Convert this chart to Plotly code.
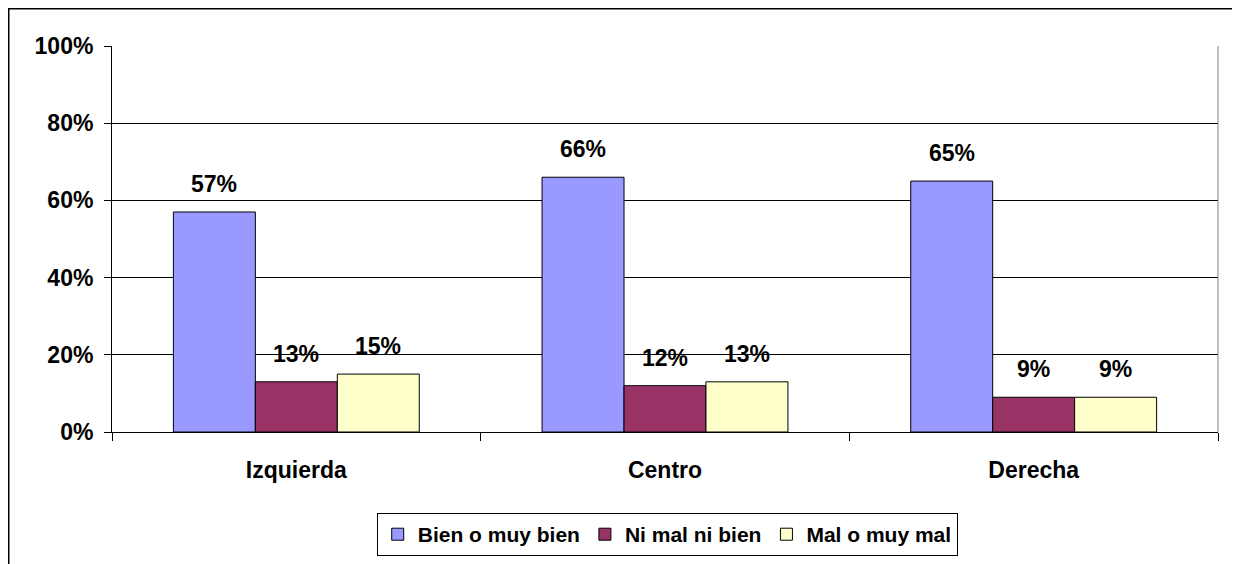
import plotly.graph_objects as go

categories = ["Izquierda", "Centro", "Derecha"]
series_names = ["Bien o muy bien", "Ni mal ni bien", "Mal o muy mal"]
bien = [57, 66, 65]
ni_mal = [13, 12, 9]
mal = [15, 13, 9]
colors = ["#9999FF", "#993366", "#FFFFCC"]
y_ticks = [0, 20, 40, 60, 80, 100]
y_tick_labels = ["0%", "20%", "40%", "60%", "80%", "100%"]

FONT = "Liberation Sans, Arial, sans-serif"
BAR_PX = 82  # pixel width of one bar, used to shift labels over grouped bars

fig = go.Figure()
for name, vals, col in zip(series_names, [bien, ni_mal, mal], colors):
    fig.add_trace(go.Bar(
        x=categories, y=vals, name=name,
        marker=dict(color=col, line=dict(color="black", width=1)),
    ))

# data labels above bars
annotations = []
for i, vals in enumerate([bien, ni_mal, mal]):
    for cat, v in zip(categories, vals):
        annotations.append(dict(
            x=cat, y=v, xref="x", yref="y", text=f"<b>{v}%</b>",
            showarrow=False, xshift=(i - 1) * BAR_PX, yshift=28,
            yanchor="middle",
            font=dict(family=FONT, size=23, color="black"),
        ))

fig.update_layout(
    width=1240, height=564,
    barmode="group", bargap=0.333, bargroupgap=0,
    plot_bgcolor="white", paper_bgcolor="white",
    margin=dict(l=104, r=30, t=38, b=140),
    font=dict(family=FONT, color="black"),
    showlegend=True,
    annotations=annotations,
    legend=dict(
        orientation="h", x=0.502, xanchor="center", y=-0.21, yanchor="top",
        bordercolor="black", borderwidth=1,
        font=dict(family=FONT, size=21, color="black", weight="bold"),
        itemwidth=30, tracegroupgap=0,
    ),
    xaxis=dict(
        showline=True, linecolor="black", linewidth=1,
        ticks="outside", ticklen=8, tickcolor="black", tickson="boundaries",
        tickfont=dict(family=FONT, size=23, color="black", weight="bold"),
        ticklabelstandoff=17,
        showgrid=False,
    ),
    yaxis=dict(
        range=[0, 100], tickvals=y_ticks, ticktext=y_tick_labels,
        showline=True, linecolor="black", linewidth=1,
        ticks="outside", ticklen=7, tickcolor="black",
        showgrid=True, gridcolor="black", gridwidth=1,
        tickfont=dict(family=FONT, size=23, color="black", weight="bold"),
        ticklabelstandoff=6,
    ),
    shapes=[
        dict(type="line", xref="paper", yref="paper", x0=1, x1=1, y0=0, y1=1,
             line=dict(color="#808080", width=1)),
        dict(type="rect", xref="paper", yref="paper",
             x0=(0.75 - 104) / 1106, x1=(1229 - 104) / 1106,
             y0=-0.5, y1=1 + 37.25 / 386,
             line=dict(color="black", width=1.5), layer="below"),
    ],
)

fig.write_html("out.html")
